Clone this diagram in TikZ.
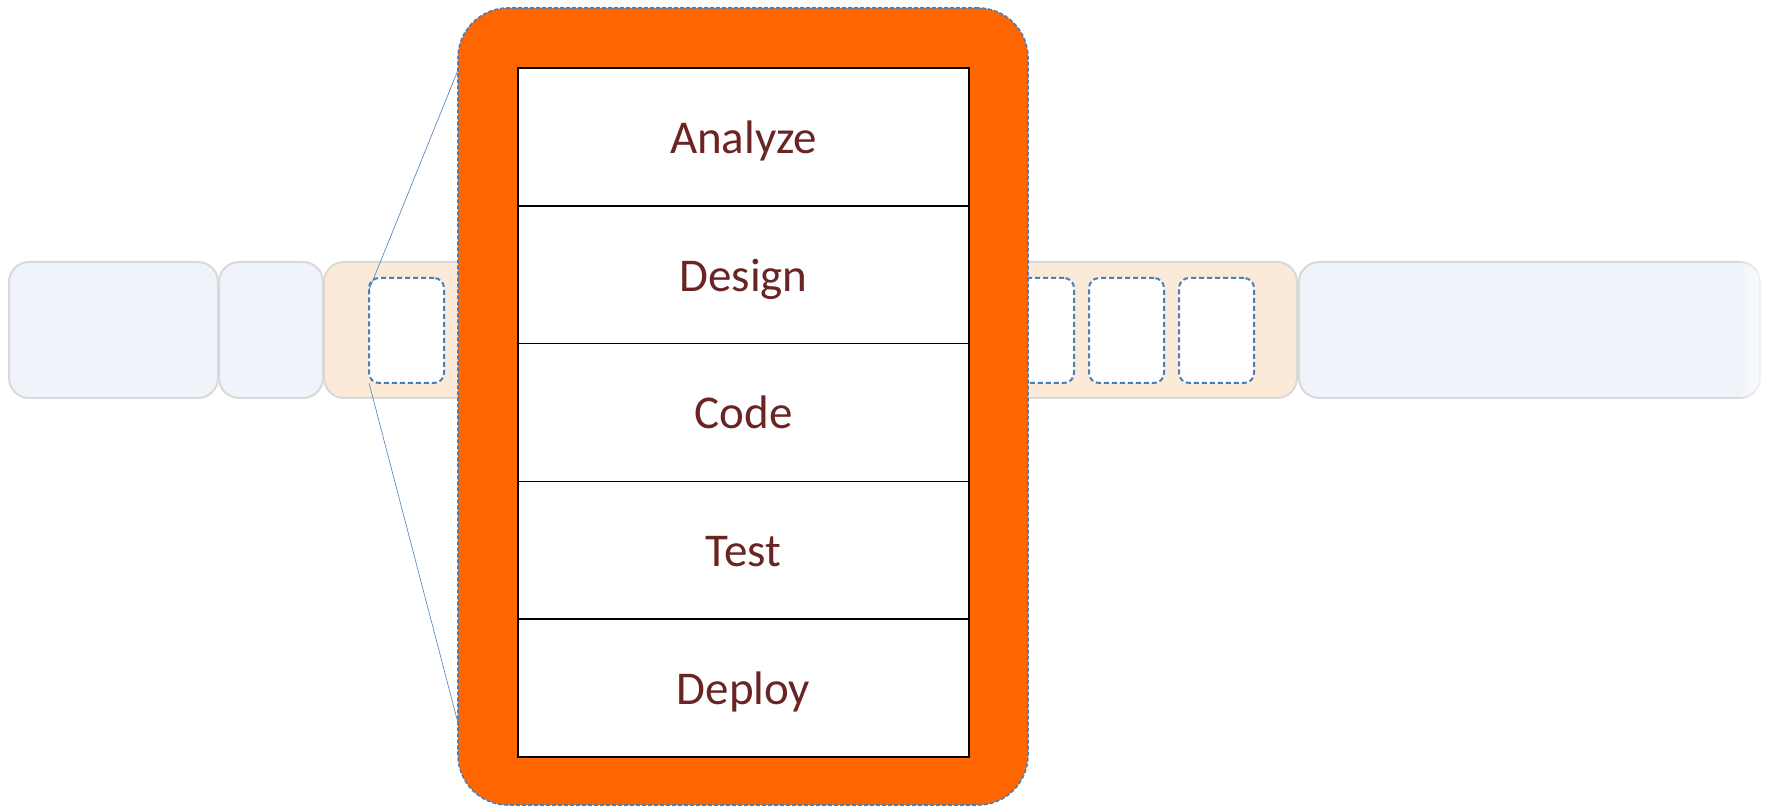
\documentclass[tikz,border=0pt]{standalone}
\usepackage{fontspec}
\setmainfont{Carlito}
\usetikzlibrary{positioning,fadings}

\definecolor{phaseblue}{HTML}{EFF3FA}
\definecolor{phasetan}{HTML}{FBEAD8}
\definecolor{phaseline}{HTML}{D9D9D9}
\definecolor{iterblue}{HTML}{4A7EBB}
\definecolor{cycleorange}{HTML}{FF6600}
\definecolor{stepred}{HTML}{6B2424}

\begin{document}
\begin{tikzpicture}[
    x=0.5pt, y=-0.5pt,
    phase/.style={draw=phaseline, line width=1pt, rounded corners=10pt,
        minimum height=68pt, inner sep=0pt, outer sep=0pt},
    iter/.style={draw=iterblue, fill=white, line width=1pt,
        dash pattern=on 2.5pt off 1.5pt, rounded corners=5pt,
        minimum width=37.5pt, minimum height=52.5pt, inner sep=0pt, outer sep=0pt},
    zoomline/.style={draw=iterblue, line width=0.3pt},
    cycle/.style={fill=cycleorange, rounded corners=25pt,
        preaction={draw=white, line width=0.8pt},
        draw=iterblue, line width=0.8pt, dash pattern=on 2pt off 1pt,
        minimum width=285pt, minimum height=398.5pt, inner sep=0pt, outer sep=0pt},
    stepbox/.style={draw=black, fill=white, line width=0.9pt,
        minimum width=225.5pt, minimum height=68.9pt, inner sep=0pt, outer sep=0pt,
        text height=16.5pt, text depth=0pt,
        text=stepred, font=\fontsize{23.5}{28}\selectfont}
]
    \useasboundingbox (0,0) rectangle (1771,807);

    % the row of phases
    \node[phase, fill=phaseblue, minimum width=104.5pt] (ablock) at (113.5,330) {};
    \node[phase, fill=phaseblue, minimum width=52pt, right=0.5pt of ablock] (bblock) {};
    \node[phase, fill=phasetan, minimum width=486.5pt, right=0.5pt of bblock] (cblock) {};
    \node[phase, fill=phaseblue, minimum width=230.5pt, right=1pt of cblock] (dblock) {};
    \fill[white, path fading=west] (1736,255) rectangle (1771,405);

    % iterations inside the tan phase
    \foreach \i in {0,...,9}
        \node[iter] (iter\i) at ({406.5+90*\i},330.5) {};

    \node[cycle] (loop) at (743,406.5) {};

    \draw[zoomline] ([yshift=-6pt]iter0.north west) -- ([yshift=-31pt]loop.north west);
    \draw[zoomline] (iter0.south west) -- ([yshift=41pt]loop.south west);

    \node[stepbox] (analyze) at (743.5,136.9) {Analyze};
    \node[stepbox, below=0pt of analyze] (design) {Design};
    \node[stepbox, below=0pt of design] (code) {Code};
    \node[stepbox, below=0pt of code] (test) {Test};
    \node[stepbox, below=0pt of test] (deploy) {Deploy};
\end{tikzpicture}
\end{document}
